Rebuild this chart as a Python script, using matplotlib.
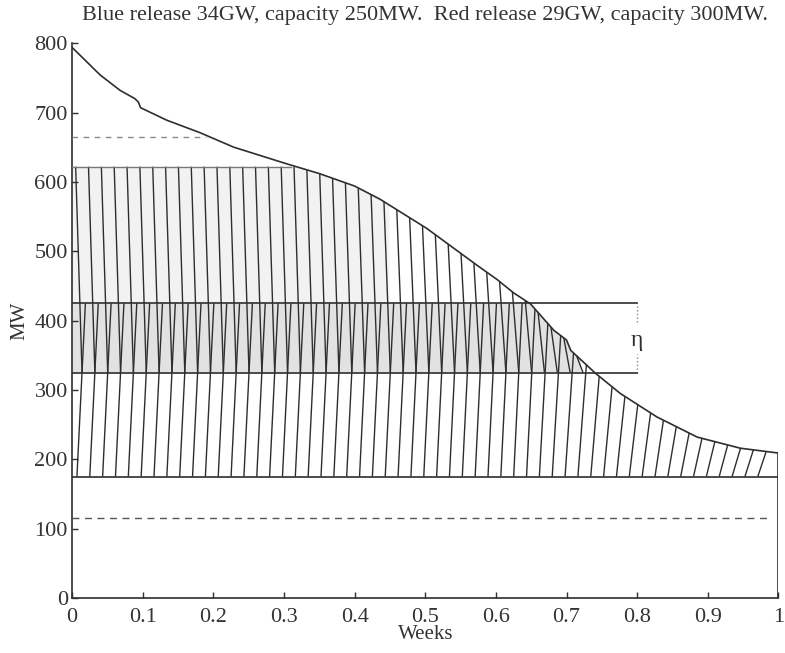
import numpy as np
import matplotlib
matplotlib.use("Agg")
import matplotlib.pyplot as plt
from matplotlib.collections import LineCollection

plt.rcParams['font.family'] = ['Liberation Serif', 'DejaVu Serif']

# load duration curve (weeks, MW)
week = [0.0, 0.021, 0.040, 0.068, 0.089, 0.094, 0.097, 0.134, 0.181, 0.229,
        0.304, 0.35, 0.40, 0.436, 0.502, 0.573, 0.602, 0.625, 0.649, 0.682,
        0.700, 0.706, 0.741, 0.776, 0.828, 0.885, 0.946, 1.0]
load = [794, 773, 754, 732, 720, 715, 707, 689, 671, 650,
        626, 612, 594, 575, 533, 480, 459, 440, 424, 386,
        372, 357, 324, 295, 261, 232, 216, 209]

BLUE_BASE = 175      # blue plant base
BLUE_TOP = 425
RED_BASE = 325
RED_TOP = 622
UPPER_DASH = 665
LOWER_DASH = 115
ETA_X = 0.8

N_HATCH = 55         # hatch lines across one week
DX_BLUE = 0.012
DX_RED = 0.009

INK = '#2e2e2e'
TXT = '#333333'

fig = plt.figure(figsize=(7.85, 6.53), dpi=100)
ax = fig.add_axes([0.0917, 0.0842, 0.9, 0.8497])

wk = np.array(week)
ld = np.array(load)
curve = lambda x: np.interp(x, wk, ld)

# faint shading left by the scanned colour fills
xs = np.linspace(0, 1, 400)
cv = curve(xs)
m = xs <= 0.72
ax.fill_between(xs[m], RED_BASE, np.minimum(cv[m], BLUE_TOP),
                color='#e2e2e2', lw=0, zorder=0)
m2 = xs <= 0.45
ax.fill_between(xs[m2], BLUE_TOP, np.minimum(cv[m2], RED_TOP),
                color='#f2f2f2', lw=0, zorder=0)

# blue hatching: bottom at base, leaning right up to the top
segs = []
for x0 in np.arange(0.007, 1.0 - DX_BLUE + 1e-9, 1.0 / N_HATCH):
    x1 = x0 + DX_BLUE
    top = min(curve(x1), BLUE_TOP)
    segs.append([(x0, BLUE_BASE), (x1, top)])
ax.add_collection(LineCollection(segs, colors=INK, linewidths=1.0, zorder=2))

# red hatching: from the top down to the red base, leaning right
segs = []
for x0 in np.arange(0.007 + 0.6 * DX_BLUE - DX_RED, 0.74, 1.0 / N_HATCH):
    if x0 < 0:
        x0 += 1.0 / N_HATCH
    x1 = x0 + DX_RED
    top = min(curve(x0), RED_TOP)
    if top <= RED_BASE or x1 > 0.741:
        continue
    segs.append([(x0, top), (x1, RED_BASE)])
ax.add_collection(LineCollection(segs, colors=INK, linewidths=1.0, zorder=2))

# load curve and closing edge
ax.plot(week, load, color=INK, lw=1.2, zorder=3)
ax.plot([1, 1], [0, load[-1]], color=INK, lw=1.2, zorder=3)

# horizontal levels
ax.plot([0, 1], [BLUE_BASE, BLUE_BASE], color=INK, lw=1.2, zorder=3)
ax.plot([0, ETA_X], [BLUE_TOP, BLUE_TOP], color=INK, lw=1.2, zorder=3)
ax.plot([0, ETA_X], [RED_BASE, RED_BASE], color=INK, lw=1.2, zorder=3)
ax.plot([0, 0.31], [RED_TOP, RED_TOP], color='#777777', lw=1.0, zorder=3)
ax.plot([0, 0.19], [UPPER_DASH, UPPER_DASH], color='#888888', lw=1.0,
        ls=(0, (4, 4)), zorder=3)
ax.plot([0, 0.99], [LOWER_DASH, LOWER_DASH], color='#555555', lw=1.0,
        ls=(0, (5, 4)), zorder=3)

# eta marker
ax.plot([ETA_X, ETA_X], [RED_BASE, 352], color='#888888', lw=1.0, ls=':')
ax.plot([ETA_X, ETA_X], [398, BLUE_TOP], color='#888888', lw=1.0, ls=':')
ax.text(ETA_X, 372, 'η', ha='center', va='center', fontsize=17, color=INK)

ax.set_xlim(0, 1)
ax.set_ylim(0, 800)
ax.set_xticks([0, 0.1, 0.2, 0.3, 0.4, 0.5, 0.6, 0.7, 0.8, 0.9, 1])
ax.set_xticklabels(['0', '0.1', '0.2', '0.3', '0.4', '0.5', '0.6', '0.7', '0.8', '0.9', '1'])
ax.set_yticks(range(0, 801, 100))
ax.tick_params(direction='in', length=4, width=1.0, color=INK,
               labelsize=16, labelcolor=TXT)
ax.tick_params(axis='x', pad=7)
ax.tick_params(axis='y', pad=3)
for s in ['top', 'right']:
    ax.spines[s].set_visible(False)
for s in ['left', 'bottom']:
    ax.spines[s].set_color(INK)
    ax.spines[s].set_linewidth(1.2)

ax.set_xlabel('Weeks', fontsize=15, color=TXT, labelpad=-1)
ax.set_ylabel('MW', fontsize=15, color=TXT, labelpad=4)
ax.set_title('Blue release 34GW, capacity 250MW.  Red release 29GW, capacity 300MW.',
             fontsize=16, color=TXT, pad=17)

fig.savefig('out.png', dpi=100)
